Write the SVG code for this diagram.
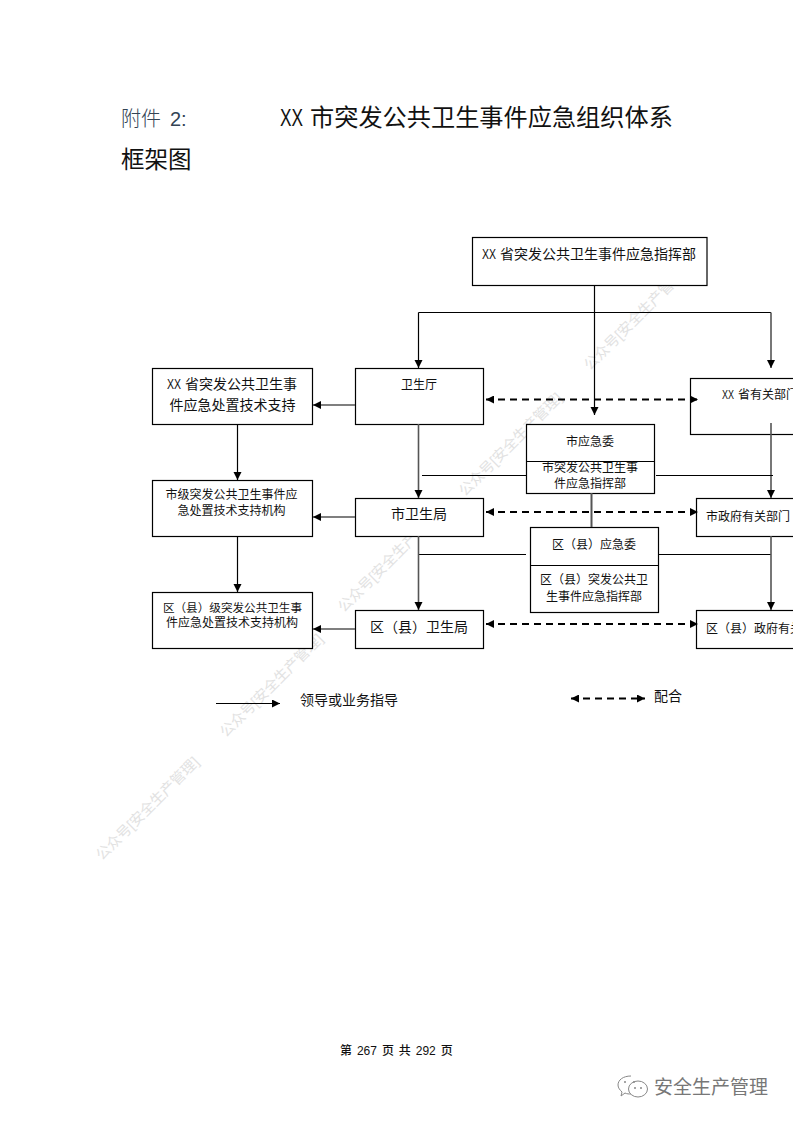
<svg xmlns="http://www.w3.org/2000/svg" width="793" height="1122" viewBox="0 0 793 1122">
<style>
text{font-family:"Liberation Sans","Noto Sans CJK SC",sans-serif;fill:#111}
.b{fill:#fff;stroke:#000;stroke-width:1.2}
.t12{font-size:12px;text-anchor:middle}
.t14{font-size:14px;text-anchor:middle}
.s{font-size:12px}
.l{fill:none;stroke:#000;stroke-width:1.2}
.g{fill:none;stroke:#555;stroke-width:1.6}
.d{fill:none;stroke:#000;stroke-width:2;stroke-dasharray:7 5}
.wm{font-size:14.5px;fill:#e2e2e2}
.a{marker-end:url(#ah)}
.dd{marker-start:url(#as);marker-end:url(#ah)}
</style>
<defs>
<marker id="ah" markerUnits="userSpaceOnUse" markerWidth="10" markerHeight="10" refX="8" refY="4" orient="auto"><path d="M0 0L8 4L0 8Z" fill="#000"/></marker>
<marker id="as" markerUnits="userSpaceOnUse" markerWidth="10" markerHeight="10" refX="0" refY="4" orient="auto"><path d="M8 0L0 4L8 8Z" fill="#000"/></marker>
</defs>
<rect width="793" height="1122" fill="#fff"/>
<g id="watermarks">
<text class="wm" x="102" y="861" transform="rotate(-45 102 861)">公众号[安全生产管理]</text>
<text class="wm" x="226" y="738" transform="rotate(-45 226 738)">公众号[安全生产管理]</text>
<text class="wm" x="344" y="613" transform="rotate(-45 344 613)">公众号[安全生产管理]</text>
<text class="wm" x="465" y="497" transform="rotate(-45 465 497)">公众号[安全生产管理]</text>
<text class="wm" x="590" y="371" transform="rotate(-45 590 371)">公众号[安全生产管理]</text>
</g>
<g id="title">
<text x="121" y="126" style="font-size:20px;fill:#345;font-weight:300">附件 <tspan x="170">2:</tspan></text>
<text x="280" y="126" style="font-size:24.200px"><tspan textLength="23" lengthAdjust="spacingAndGlyphs">XX</tspan> <tspan x="310">市突发公共卫生事件应急组织体系</tspan></text>
<text x="121" y="168" style="font-size:23.500px">框架图</text>
</g>
<g id="n-top"><rect class="b" x="472.500" y="237.500" width="234.500" height="48"/><text x="482" y="259" style="font-size:14px"><tspan textLength="14" lengthAdjust="spacingAndGlyphs">XX</tspan> <tspan x="500">省突发公共卫生事件应急指挥部</tspan></text></g>
<g id="n-wst"><rect class="b" x="355.500" y="368.500" width="128" height="56"/><text x="419" y="388.500" class="t12">卫生厅</text></g>
<g id="n-tech1"><rect class="b" x="152.500" y="368.500" width="160" height="56"/><text x="167" y="389" style="font-size:14px"><tspan textLength="14" lengthAdjust="spacingAndGlyphs">XX</tspan> <tspan x="185">省突发公共卫生事</tspan></text><text x="232.500" y="410" class="t14">件应急处置技术支持</text></g>
<g id="n-tech2"><rect class="b" x="152.500" y="480.500" width="160" height="56"/><text x="231.500" y="498.500" class="t12">市级突发公共卫生事件应</text><text x="231.500" y="514.500" class="t12">急处置技术支持机构</text></g>
<g id="n-tech3"><rect class="b" x="152.500" y="592.500" width="160" height="56"/><text x="232.500" y="611.500" class="t12" style="font-size:11.600px">区（县）级突发公共卫生事</text><text x="232" y="626.500" class="t12">件应急处置技术支持机构</text></g>
<g id="n-city"><rect class="b" x="355.500" y="498.500" width="128" height="38"/><text x="419" y="519" class="t14">市卫生局</text></g>
<g id="n-county"><rect class="b" x="355.500" y="610.500" width="128" height="38"/><text x="419" y="632" class="t14">区（县）卫生局</text></g>
<g id="n-prov"><rect class="b" x="690.500" y="378.500" width="120" height="56"/><text x="722" y="398.500" class="s"><tspan textLength="12" lengthAdjust="spacingAndGlyphs">XX</tspan> <tspan x="738">省有关部门</tspan></text></g>
<g id="n-cityem"><rect class="b" x="526.500" y="424.500" width="128" height="69"/><path class="l" d="M526.500 461.500H654.500"/><text x="590" y="445.500" class="t12">市应急委</text><text x="590" y="471.500" class="t12">市突发公共卫生事</text><text x="590" y="487.500" class="t12">件应急指挥部</text></g>
<g id="n-citygov"><rect class="b" x="696.500" y="498.500" width="120" height="38"/><text x="706" y="520.500" class="s">市政府有关部门</text></g>
<g id="n-countyem"><rect class="b" x="530.500" y="527.500" width="128" height="85"/><path class="l" d="M530.500 565.500H658.500"/><text x="594" y="548.500" class="t12">区（县）应急委</text><text x="594" y="583.500" class="t12">区（县）突发公共卫</text><text x="594" y="600.500" class="t12">生事件应急指挥部</text></g>
<g id="n-countygov"><rect class="b" x="696.500" y="610.500" width="120" height="38"/><text x="706" y="632.500" class="s">区（县）政府有关部门</text></g>
<g id="connectors">
<path class="l a" d="M594.500 285V415"/>
<path class="l" d="M418.500 312.500H771"/>
<path class="l a" d="M418.500 312.500V368"/>
<path class="g a" d="M771 312.500V368"/>
<path class="d dd" d="M486 399.500H698"/>
<path class="g a" d="M771 423V498"/>
<path class="g a" d="M418.500 424V498"/>
<path class="l" d="M422 475.500H527M656 475.500H773"/>
<path class="g" d="M591.500 493V527" style="stroke-width:2"/>
<path class="d dd" d="M486 512H698"/>
<path class="l" d="M419 554.500H526M658 554.500H771"/>
<path class="g a" d="M418.500 536V610"/>
<path class="g a" d="M771 536V610"/>
<path class="d dd" d="M486 624H698"/>
<path class="g a" d="M355 405H313"/>
<path class="g a" d="M355 517H313"/>
<path class="g a" d="M355 629H313"/>
<path class="l a" d="M237.500 424V480"/>
<path class="l a" d="M237.500 536V592"/>
<path class="l a" d="M216 703.500H280"/>
<path class="d dd" d="M571 698.500H645"/>
</g>
<g id="legend">
<text x="300" y="705" style="font-size:14px">领导或业务指导</text>
<text x="654" y="701" style="font-size:14px">配合</text>
</g>
<g id="footer">
<text x="340" y="1055" style="font-size:12px;font-weight:500;word-spacing:1.600px">第 267 页 共 292 页</text>
<g fill="#fff" stroke="#888" stroke-width="1">
<path d="M631 1076c-8 0-13 4-13 9c0 3 2 5 4 7l-1 4l4-3c2 1 4 1 6 1"/>
<ellipse cx="638" cy="1089" rx="9.500" ry="8"/>
</g>
<g fill="#888"><circle cx="625" cy="1082" r="1"/><circle cx="634" cy="1082" r="1"/><circle cx="635" cy="1088" r="1"/><circle cx="641" cy="1088" r="1"/></g>
<text x="654" y="1094" style="font-size:19px;fill:#777">安全生产管理</text>
</g>
</svg>
